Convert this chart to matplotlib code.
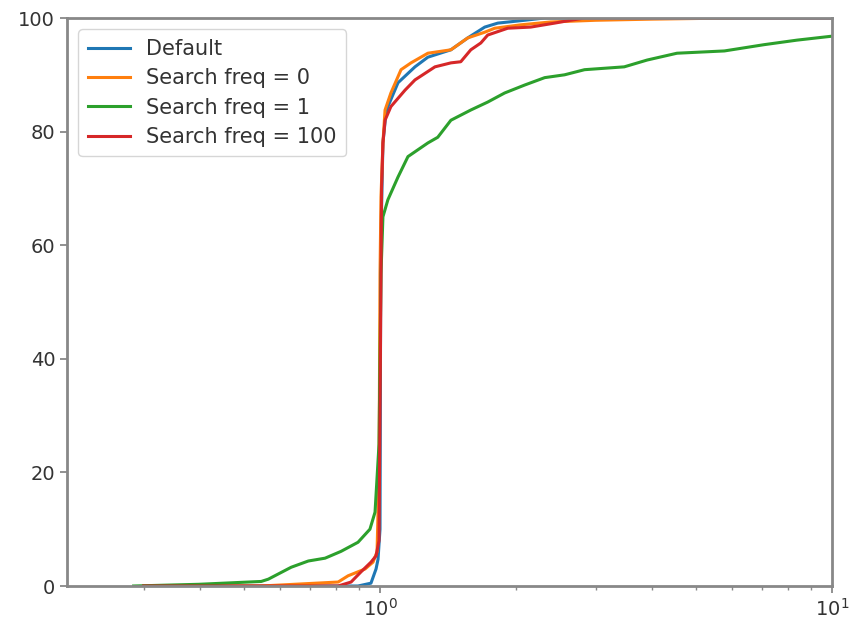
import matplotlib
matplotlib.use("Agg")
import matplotlib.pyplot as plt

labels = ["Default", "Search freq = 0", "Search freq = 1", "Search freq = 100"]
colors = ["#1f77b4", "#ff7f0e", "#2ca02c", "#d62728"]

default_x = [0.30, 0.894, 0.955, 0.980, 0.990, 1.000, 1.004, 1.015, 1.030, 1.041, 1.096, 1.195, 1.276, 1.435, 1.564, 1.705, 1.822, 2.090, 2.314, 10.0]
default_y = [0.0, 0.0, 0.5, 3.0, 4.7, 10.0, 60.0, 78.0, 83.0, 84.4, 88.6, 91.4, 93.1, 94.4, 96.5, 98.4, 99.1, 99.6, 100.0, 100.0]

freq0_x = [0.30, 0.546, 0.808, 0.850, 0.927, 0.965, 0.985, 0.995, 1.000, 1.005, 1.015, 1.026, 1.057, 1.113, 1.171, 1.276, 1.435, 1.564, 1.705, 1.794, 2.048, 2.385, 3.00, 4.00, 6.02]
freq0_y = [0.0, 0.0, 0.7, 1.8, 3.0, 4.2, 6.0, 20.0, 55.0, 68.5, 78.0, 83.8, 86.8, 90.9, 92.1, 93.8, 94.4, 96.5, 97.5, 98.2, 98.8, 99.3, 99.6, 99.8, 100.0]

freq1_x = [0.285, 0.397, 0.546, 0.566, 0.636, 0.694, 0.756, 0.820, 0.894, 0.950, 0.975, 0.995, 1.005, 1.015, 1.041, 1.096, 1.153, 1.276, 1.342, 1.435, 1.588, 1.731, 1.887, 2.090, 2.314, 2.561, 2.835, 3.47, 3.90, 4.54, 5.78, 7.07, 8.36, 10.0]
freq1_y = [0.0, 0.3, 0.8, 1.2, 3.3, 4.4, 4.9, 6.1, 7.7, 10.0, 13.0, 25.0, 55.0, 65.0, 68.0, 72.0, 75.6, 78.0, 79.0, 82.0, 83.8, 85.2, 86.8, 88.2, 89.5, 90.0, 90.9, 91.4, 92.6, 93.8, 94.2, 95.3, 96.1, 96.8]

freq100_x = [0.30, 0.808, 0.863, 0.908, 0.955, 0.980, 0.995, 1.002, 1.008, 1.015, 1.026, 1.057, 1.136, 1.195, 1.323, 1.435, 1.509, 1.588, 1.671, 1.731, 1.917, 2.155, 2.434, 2.641, 2.835, 10.0]
freq100_y = [0.0, 0.0, 0.7, 2.5, 4.2, 5.3, 8.0, 40.0, 70.0, 78.0, 82.0, 84.4, 87.3, 89.1, 91.4, 92.1, 92.3, 94.4, 95.6, 97.0, 98.2, 98.4, 99.1, 99.6, 100.0, 100.0]

series_x = [default_x, freq0_x, freq1_x, freq100_x]
series_y = [default_y, freq0_y, freq1_y, freq100_y]

plt.rcParams['font.family'] = ['DejaVu Sans']
fig = plt.figure(figsize=(8.52, 6.31), dpi=100)
ax = fig.add_axes([67/852, 1 - 586/631, (832-67)/852, (586-18)/631])

for x, y, c, lab in zip(series_x, series_y, colors, labels):
    ax.plot(x, y, color=c, lw=2.2, label=lab)

ax.set_xscale('log')
ax.set_xlim(0.203, 10)
ax.set_ylim(0, 100)
ax.set_yticks([0, 20, 40, 60, 80, 100])

for s in ax.spines.values():
    s.set_color('#888888')
    s.set_linewidth(2.0)
ax.tick_params(axis='both', which='major', labelsize=14, colors='#888888', labelcolor='#333333', length=5, width=1.3)
ax.tick_params(axis='x', which='minor', colors='#888888', length=3, width=1.0)

leg = ax.legend(loc='upper left', fontsize=15, frameon=True, borderpad=0.45,
                handlelength=2.0, labelspacing=0.45, borderaxespad=0.55)
for t in leg.get_texts():
    t.set_color('#333333')

fig.savefig('out.png', dpi=100)
